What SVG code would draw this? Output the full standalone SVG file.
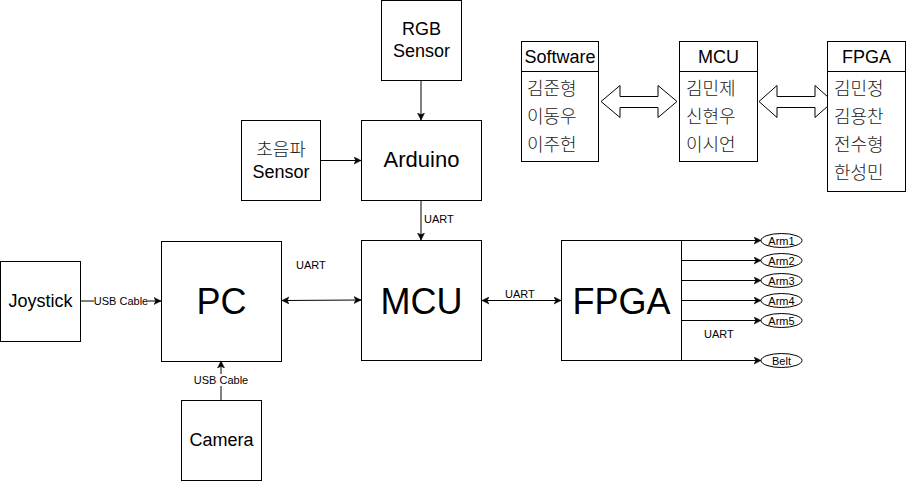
<svg xmlns="http://www.w3.org/2000/svg" width="907" height="481" viewBox="0 0 907 481">
<defs>
<style>
.box{fill:#fff;stroke:#000;stroke-width:1}
.t{font-family:"Liberation Sans",Arial,"Noto Sans CJK KR",sans-serif;fill:#000}
.kr{font-family:"Liberation Sans",Arial,"Noto Sans CJK KR",sans-serif;fill:#1a1a1a;font-weight:300}
.c{text-anchor:middle}
.f18{font-size:18px}
.f22{font-size:22px}
.f36{font-size:36px}
.f11{font-size:11px}
.ln{fill:none;stroke:#000;stroke-width:1}
.lbl{fill:#fff;stroke:none}
</style>
<marker id="ah" viewBox="0 0 8 8" refX="7" refY="4" markerWidth="8" markerHeight="8" markerUnits="userSpaceOnUse" orient="auto-start-reverse">
<path d="M0,0.5 L7,4 L0,7.5 L1.8,4 Z" fill="#000" stroke="#000" stroke-width="0.5"/>
</marker>
</defs>
<rect width="907" height="481" fill="#fff"/>

<g id="connectors">
<line class="ln" x1="421" y1="80.5" x2="421" y2="120" marker-end="url(#ah)"/>
<line class="ln" x1="321" y1="160.5" x2="361" y2="160.5" marker-end="url(#ah)"/>
<line class="ln" x1="421" y1="200.5" x2="421" y2="240" marker-end="url(#ah)"/>
<text class="t f11" x="424" y="223">UART</text>
<line class="ln" x1="282" y1="300.5" x2="361" y2="300" marker-start="url(#ah)" marker-end="url(#ah)"/>
<text class="t f11" x="296" y="269">UART</text>
<line class="ln" x1="482" y1="300.5" x2="561" y2="300.5" marker-start="url(#ah)" marker-end="url(#ah)"/>
<text class="t f11" x="505" y="298">UART</text>
<line class="ln" x1="81" y1="301" x2="161" y2="301" marker-end="url(#ah)"/>
<rect class="lbl" x="94" y="295" width="54" height="12"/>
<text class="t f11 c" x="121" y="305">USB Cable</text>
<line class="ln" x1="221" y1="400" x2="221" y2="361" marker-end="url(#ah)"/>
<rect class="lbl" x="194" y="374" width="54" height="12"/>
<text class="t f11 c" x="221" y="384">USB Cable</text>
<line class="ln" x1="681" y1="240.5" x2="761" y2="240.5" marker-end="url(#ah)"/>
<line class="ln" x1="681" y1="260.5" x2="761" y2="260.5" marker-end="url(#ah)"/>
<line class="ln" x1="681" y1="280.5" x2="761" y2="280.5" marker-end="url(#ah)"/>
<line class="ln" x1="681" y1="300.5" x2="761" y2="300.5" marker-end="url(#ah)"/>
<line class="ln" x1="681" y1="320.5" x2="761" y2="320.5" marker-end="url(#ah)"/>
<line class="ln" x1="681" y1="360.5" x2="761" y2="360.5" marker-end="url(#ah)"/>
<text class="t f11" x="704" y="338">UART</text>
<path class="box" d="M601,101.5 L620,85.5 L620,96.5 L658,96.5 L658,85.5 L677,101.5 L658,117.5 L658,107.5 L620,107.5 L620,117.5 Z"/>
<path class="box" d="M759,101.5 L777,85.5 L777,96.5 L815,96.5 L815,85.5 L833,101.5 L815,117.5 L815,107.5 L777,107.5 L777,117.5 Z"/>
</g>

<g id="rgb-sensor">
<rect class="box" x="381.5" y="0.5" width="80" height="80"/>
<text class="t f18 c" x="421.5" y="35">RGB</text>
<text class="t f18 c" x="421.5" y="57">Sensor</text>
</g>
<g id="ultrasonic-sensor">
<rect class="box" x="241.5" y="120.5" width="79" height="80"/>
<text class="kr f18 c" x="281" y="156">초음파</text>
<text class="t f18 c" x="281" y="178">Sensor</text>
</g>
<g id="arduino">
<rect class="box" x="361.5" y="120.5" width="120" height="80"/>
<text class="t f22 c" x="421.5" y="167">Arduino</text>
</g>
<g id="joystick">
<rect class="box" x="0.5" y="261.5" width="80" height="80"/>
<text class="t f18 c" x="40.5" y="307">Joystick</text>
</g>
<g id="pc">
<rect class="box" x="161.5" y="241.5" width="120" height="120"/>
<text class="t f36 c" x="221.5" y="314">PC</text>
</g>
<g id="mcu">
<rect class="box" x="361.5" y="240.5" width="120" height="120"/>
<text class="t f36 c" x="421.5" y="314">MCU</text>
</g>
<g id="fpga">
<rect class="box" x="561.5" y="240.5" width="120" height="120"/>
<text class="t f36 c" x="621.5" y="314">FPGA</text>
</g>
<g id="camera">
<rect class="box" x="181.5" y="400.5" width="80" height="80"/>
<text class="t f18 c" x="221.5" y="446">Camera</text>
</g>
<g id="arm1"><ellipse class="box" cx="781.5" cy="240.5" rx="20.5" ry="7"/><text class="t f11 c" x="781.5" y="244.5">Arm1</text></g>
<g id="arm2"><ellipse class="box" cx="781.5" cy="260.5" rx="20.5" ry="7"/><text class="t f11 c" x="781.5" y="264.5">Arm2</text></g>
<g id="arm3"><ellipse class="box" cx="781.5" cy="280.5" rx="20.5" ry="7"/><text class="t f11 c" x="781.5" y="284.5">Arm3</text></g>
<g id="arm4"><ellipse class="box" cx="781.5" cy="300.5" rx="20.5" ry="7"/><text class="t f11 c" x="781.5" y="304.5">Arm4</text></g>
<g id="arm5"><ellipse class="box" cx="781.5" cy="320.5" rx="20.5" ry="7"/><text class="t f11 c" x="781.5" y="324.5">Arm5</text></g>
<g id="belt"><ellipse class="box" cx="781.5" cy="360.5" rx="20.5" ry="7"/><text class="t f11 c" x="781.5" y="364.5">Belt</text></g>

<g id="software-team">
<rect class="box" x="521.5" y="41.5" width="77" height="120"/>
<line class="ln" x1="521.5" y1="71.5" x2="598.5" y2="71.5"/>
<text class="t f18 c" x="560" y="63">Software</text>
<text class="kr f18" x="527" y="94.5">김준형</text>
<text class="kr f18" x="527" y="123">이동우</text>
<text class="kr f18" x="527" y="151">이주헌</text>
</g>
<g id="mcu-team">
<rect class="box" x="679.5" y="41.5" width="78" height="120"/>
<line class="ln" x1="679.5" y1="71.5" x2="757.5" y2="71.5"/>
<text class="t f18 c" x="718.5" y="63">MCU</text>
<text class="kr f18" x="686" y="94.5">김민제</text>
<text class="kr f18" x="686" y="123">신현우</text>
<text class="kr f18" x="686" y="151">이시언</text>
</g>
<g id="fpga-team">
<rect class="box" x="827.5" y="41.5" width="78" height="150"/>
<line class="ln" x1="827.5" y1="71.5" x2="905.5" y2="71.5"/>
<text class="t f18 c" x="866.5" y="63">FPGA</text>
<text class="kr f18" x="834" y="94.5">김민정</text>
<text class="kr f18" x="834" y="123">김용찬</text>
<text class="kr f18" x="834" y="151">전수형</text>
<text class="kr f18" x="834" y="179">한성민</text>
</g>
</svg>
